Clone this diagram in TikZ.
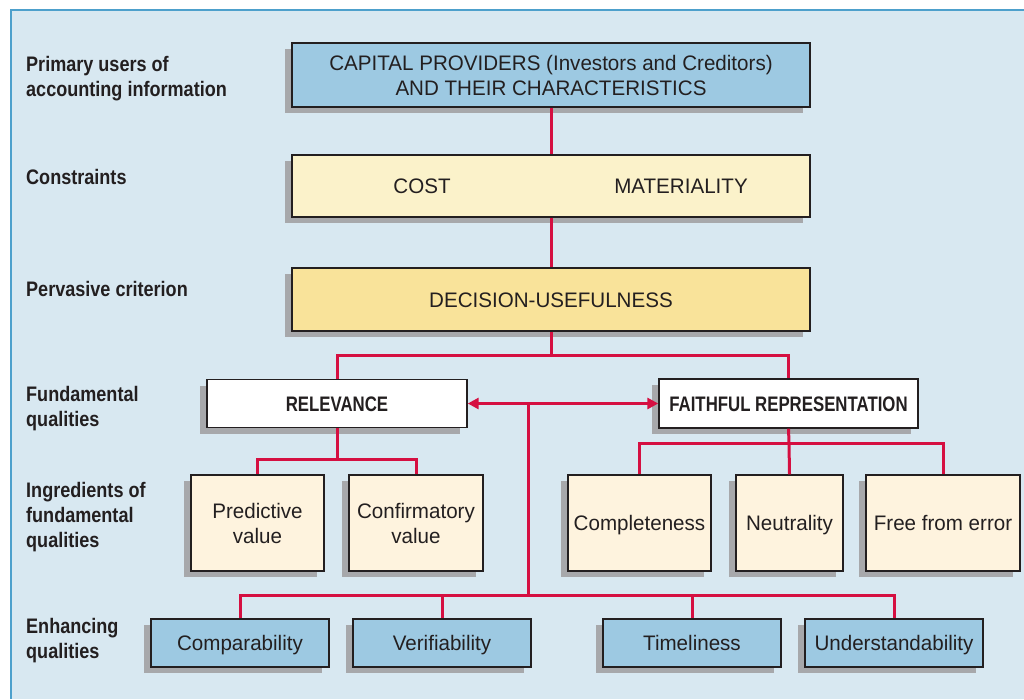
\documentclass[tikz,border=0pt]{standalone}
\usepackage{fontspec}
\setmainfont{Liberation Sans}[FakeStretch=0.98]
\newfontfamily\boldbox{Liberation Sans}[FakeStretch=0.8]
\newfontfamily\boldlbl{Liberation Sans}[FakeStretch=0.86]
\usetikzlibrary{arrows.meta,shadows}
\definecolor{bgc}{HTML}{D8E8F1}
\definecolor{borderc}{HTML}{4DA0CC}
\definecolor{redc}{HTML}{D50F41}
\definecolor{bluef}{HTML}{9DC9E2}
\definecolor{ylight}{HTML}{FBF2CA}
\definecolor{ydark}{HTML}{F9E39A}
\definecolor{cream}{HTML}{FEF3DE}
\definecolor{shadc}{HTML}{A7A8AB}
\definecolor{linec}{HTML}{231F20}
\definecolor{txtc}{HTML}{231F20}
\tikzset{
  box/.style={draw=linec, line width=1.4pt, inner sep=0pt, text=txtc, align=center,
    font=\fontsize{21}{25}\selectfont,
    drop shadow={shadow xshift=-7pt, shadow yshift=-6pt, fill=shadc, opacity=1}},
  oneline/.style={text height=15pt, text depth=0pt},
  boldtxt/.style={font=\boldbox\bfseries\fontsize{21}{25}\selectfont},
  plain/.style={inner sep=0pt, text=txtc, font=\fontsize{21}{25}\selectfont, text height=15pt, text depth=0pt},
  lbl/.style={anchor=north west, inner sep=0pt, align=left, text=txtc,
    font=\boldlbl\bfseries\fontsize{21}{25}\selectfont},
  conn/.style={draw=redc, line width=3pt},
  tipx/.tip={Triangle[length=11pt,width=11pt]}
}
\begin{document}
\begin{tikzpicture}[x=1pt,y=-1pt]
\useasboundingbox (0,0) rectangle (1024,699);
\fill[bgc] (10,9) rectangle (1024,699);
\draw[borderc, line width=2pt] (1024,10) -- (11,10) -- (11,699);

% left labels
\node[lbl] (l1) at (26,56) {Primary users of\\accounting information};
\node[lbl] (l2) at (26,169) {Constraints};
\node[lbl] (l3) at (26,281) {Pervasive criterion};
\node[lbl] (l4) at (26,386) {Fundamental\\qualities};
\node[lbl] (l5) at (26,482) {Ingredients of\\fundamental\\qualities};
\node[lbl] (l6) at (26,618) {Enhancing\\qualities};

% top boxes
\node[box, fill=bluef, minimum width=518pt, minimum height=64pt] (b1) at (551,75)
  {CAPITAL PROVIDERS (Investors and Creditors)\\AND THEIR CHARACTERISTICS};
\node[box, fill=ylight, minimum width=518pt, minimum height=62pt] (b2) at (551,186) {};
\node[plain] (cost) at (422,186) {COST};
\node[plain] (mat) at (681,186) {MATERIALITY};
\node[box, oneline, fill=ydark, minimum width=518pt, minimum height=63pt] (b3) at (551,299.5) {DECISION-USEFULNESS};

% fundamental qualities
\node[box, oneline, boldtxt, fill=white, minimum width=260pt, minimum height=48pt] (rel) at (337,403.5) {RELEVANCE};
\node[box, oneline, boldtxt, fill=white, minimum width=259pt, minimum height=49pt] (fr) at (788.5,403.5) {FAITHFUL REPRESENTATION};

% ingredients
\node[box, fill=cream, minimum width=133pt, minimum height=96pt] (pred) at (257.5,523) {Predictive\\value};
\node[box, fill=cream, minimum width=134pt, minimum height=96pt] (conf) at (416,523) {Confirmatory\\value};
\node[box, oneline, fill=cream, minimum width=143pt, minimum height=96pt] (comp) at (639.5,523) {Completeness};
\node[box, oneline, fill=cream, minimum width=107pt, minimum height=96pt] (neut) at (789.5,523) {Neutrality};
\node[box, oneline, fill=cream, minimum width=154pt, minimum height=96pt] (free) at (943,523) {Free from error};

% enhancing
\node[box, oneline, fill=bluef, minimum width=178pt, minimum height=48pt] (compa) at (240,643) {Comparability};
\node[box, oneline, fill=bluef, minimum width=178pt, minimum height=48pt] (veri) at (442,643) {Verifiability};
\node[box, oneline, fill=bluef, minimum width=178pt, minimum height=48pt] (time) at (692,643) {Timeliness};
\node[box, oneline, fill=bluef, minimum width=178pt, minimum height=48pt] (under) at (894,643) {Understandability};

% junctions
\coordinate (j1) at (551,355);
\coordinate (j2) at (337,459.5);
\coordinate (j3) at (789,443);
\coordinate (j4) at (528,403.5);
\coordinate (j5) at (528,595.5);

% connectors
\draw[conn] (b1.south) -- (b2.north);
\draw[conn] (b2.south) -- (b3.north);
\draw[conn] (b3.south) -- (j1);
\draw[conn] (rel.north) |- (j1) -| (fr.north);
\draw[conn] (rel.south) -- (j2);
\draw[conn] (pred.north) |- (j2) -| (conf.north);
\draw[conn] (fr.south) -- (j3);
\draw[conn] (comp.north) |- (j3) -| (free.north);
\draw[conn] (neut.north) -- (j3);
\draw[conn, tipx-tipx] (rel.east) -- (fr.west);
\draw[conn] (j4) -- (j5);
\draw[conn] (compa.north) |- (j5) -| (under.north);
\draw[conn] (veri.north) -- (veri.north |- j5);
\draw[conn] (time.north) -- (time.north |- j5);
\end{tikzpicture}
\end{document}
